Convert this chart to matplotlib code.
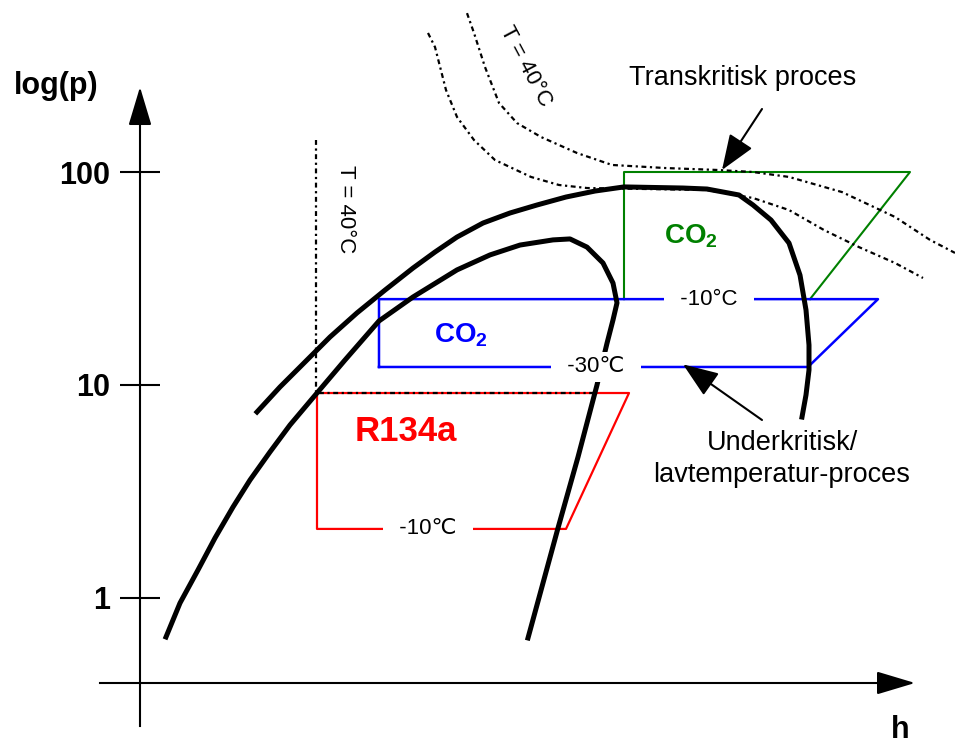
import matplotlib
matplotlib.use('Agg')
import matplotlib.pyplot as plt
from matplotlib.ticker import NullLocator, FixedLocator

plt.rcParams['font.family'] = ['Liberation Sans', 'DejaVu Sans']
plt.rcParams['mathtext.fontset'] = 'custom'
plt.rcParams['mathtext.rm'] = 'Liberation Sans'
plt.rcParams['mathtext.bf'] = 'Liberation Sans:bold'

# ---------------- data (h in arbitrary units, p in bar) ----------------
p_ticks = [1, 10, 100]
p_tick_labels = ['1', '10', '100']

# CO2 saturation dome
co2_dome_h = [257, 280, 297, 330, 357, 385, 413, 435, 457, 483, 510, 537, 566, 595, 624, 683, 707,
              739, 753, 771, 789, 800, 806, 809, 809, 806, 802]
co2_dome_p = [7.47, 9.79, 11.76, 16.8, 21.8, 27.9, 35.4, 42.1, 49.5, 57.6, 64.2, 70.0, 76.3, 81.4, 85.1, 84.1, 83.2,
              78.0, 70.0, 59.5, 46.4, 32.8, 22.5, 15.4, 11.76, 8.98, 7.07]

# R134a saturation dome
r134a_dome_h = [166, 180, 198, 215, 233, 250, 270, 290, 317, 345, 379, 413, 457, 490, 520, 553, 570,
                587, 603, 613, 617, 613, 607, 597, 578, 558, 528]
r134a_dome_p = [0.656, 0.947, 1.354, 1.913, 2.674, 3.58, 4.85, 6.49, 9.17, 13.10, 19.98, 25.89, 34.7, 40.8, 45.4, 48.0, 48.5,
                44.4, 37.4, 30.1, 24.3, 20.2, 15.7, 10.0, 4.59, 2.13, 0.649]

# R134a cycle
r134a_cycle_h = [317, 629, 566, 317, 317]
r134a_cycle_p = [9.17, 9.17, 2.11, 2.11, 9.17]

# CO2 subcritical cycle (-30 / -10 C)
co2_sub_h = [379, 379, 878, 808, 379]
co2_sub_p = [12.15, 25.3, 25.3, 12.15, 12.15]

# CO2 transcritical cycle
co2_trans_h = [624, 624, 910, 810]
co2_trans_p = [25.3, 100, 100, 25.3]

# T = 40 C isotherm, R134a
iso_r134a_h = [316, 316, 597]
iso_r134a_p = [141.3, 9.17, 9.17]

# T = 40 C isotherms, CO2 region
iso_a_h = [428, 435, 446, 457, 474, 495, 531, 559, 587, 707, 753, 789, 824, 859, 895, 923]
iso_a_p = [449.5, 386, 242.6, 181.3, 141.3, 113.8, 94.8, 86.9, 84.1, 82.3, 75.5, 66.3, 53.4, 44.4, 37.4, 31.8]
iso_b_h = [467, 474, 485, 499, 517, 541, 577, 612, 665, 718, 753, 789, 842, 895, 930, 955]
iso_b_p = [557, 449.5, 311, 210.9, 169.8, 146, 122.8, 107.9, 104.4, 102.2, 100, 94.8, 80.5, 61.5, 48.0, 41.7]

# ---------------- figure ----------------
fig = plt.figure(figsize=(9.55, 7.46), dpi=100)
ax = fig.add_axes([0, 0, 1, 1])
ax.set_facecolor('none')
ax.set_xlim(0, 955)
ax.set_yscale('log')
ax.set_ylim(0.2019, 642)

# axes
for s in ['top', 'right']:
    ax.spines[s].set_visible(False)
ax.spines['left'].set_position(('data', 140))
ax.spines['left'].set_bounds(0.2506, 175.4)
ax.spines['bottom'].set_position(('data', 0.399))
ax.spines['bottom'].set_bounds(100, 882)
for s in ['left', 'bottom']:
    ax.spines[s].set_linewidth(1.5)
ax.set_xticks([])
ax.yaxis.set_major_locator(FixedLocator(p_ticks))
ax.yaxis.set_minor_locator(NullLocator())
ax.set_yticklabels(p_tick_labels, fontsize=22, fontweight='bold')
ax.tick_params(axis='y', direction='inout', length=28.8, width=1.5, pad=7)

head = dict(arrowstyle='-|>,head_length=1.2,head_width=0.36', mutation_scale=20,
            lw=1.5, color='black', shrinkA=0, shrinkB=0)
ax.annotate('', xy=(140, 250.6), xytext=(140, 175.4), arrowprops=head)
ax.annotate('', xy=(915, 0.399), xytext=(882, 0.399), arrowprops=head)

ax.text(56, 253.5, 'log(p)', fontsize=22, fontweight='bold', ha='center', va='center')
ax.text(900, 0.2030, 'h', fontsize=22, fontweight='bold', ha='center', va='bottom')

# cycles
ax.plot(r134a_cycle_h, r134a_cycle_p, color='#FF0000', lw=1.6, zorder=2)
ax.plot(co2_sub_h, co2_sub_p, color='#0000FF', lw=1.8, zorder=2.2)
ax.plot(co2_trans_h, co2_trans_p, color='#008000', lw=1.5, zorder=2.1)

# isotherms
dot = (0, (2.2, 1.6, 1, 1.6))
ax.plot(iso_r134a_h, iso_r134a_p, color='black', lw=1.6, ls=dot, zorder=2.6)
ax.plot(iso_a_h, iso_a_p, color='black', lw=1.6, ls=dot, zorder=2.6)
ax.plot(iso_b_h, iso_b_p, color='black', lw=1.6, ls=dot, zorder=2.6)

# domes
ax.plot(co2_dome_h, co2_dome_p, color='black', lw=3.6, zorder=3, solid_joinstyle='round')
ax.plot(r134a_dome_h, r134a_dome_p, color='black', lw=3.6, zorder=3, solid_joinstyle='round')

# labels on lines
box = dict(boxstyle='square,pad=0.2', fc='white', ec='none')
ax.text(709, co2_sub_p[1], '  -10°C  ', fontsize=16, ha='center', va='center', bbox=box, zorder=5)
ax.text(596, co2_sub_p[0], '  -30\u2103  ', fontsize=16, ha='center', va='center', bbox=box, zorder=5)
ax.text(428, r134a_cycle_p[2], '  -10\u2103  ', fontsize=16, ha='center', va='center', bbox=box, zorder=5)

# fluid labels
ax.text(406, 6.02, 'R134a', fontsize=25, fontweight='bold', color='#FF0000', ha='center', va='center')
ax.text(461, 15.9, r'$\mathbf{CO_2}$', fontsize=20, color='#0000FF', ha='center', va='baseline')
ax.text(691, 46.4, r'$\mathbf{CO_2}$', fontsize=20, color='#008000', ha='center', va='baseline')

# isotherm labels
ax.text(345, 67.0, 'T = 40°C', fontsize=16, rotation=-90, ha='center', va='center')
ax.text(526, 314.5, 'T = 40°C', fontsize=16, rotation=-62, ha='center', va='center')

# process annotations
arr = dict(arrowstyle='-|>,head_length=1.1,head_width=0.42', mutation_scale=20,
           lw=1.5, color='black', shrinkA=0, shrinkB=0)
ax.text(743, 276, 'Transkritisk proces', fontsize=19.5, ha='center', va='center')
ax.annotate('', xy=(722, 102.2), xytext=(762, 197.6), arrowprops=arr)
ax.text(782, 4.49, 'Underkritisk/\nlavtemperatur-proces', fontsize=19.5, ha='center',
        va='center', linespacing=1.3)
ax.annotate('', xy=(683, 12.5), xytext=(762, 6.85), arrowprops=arr)

fig.savefig('out.png', dpi=100)
